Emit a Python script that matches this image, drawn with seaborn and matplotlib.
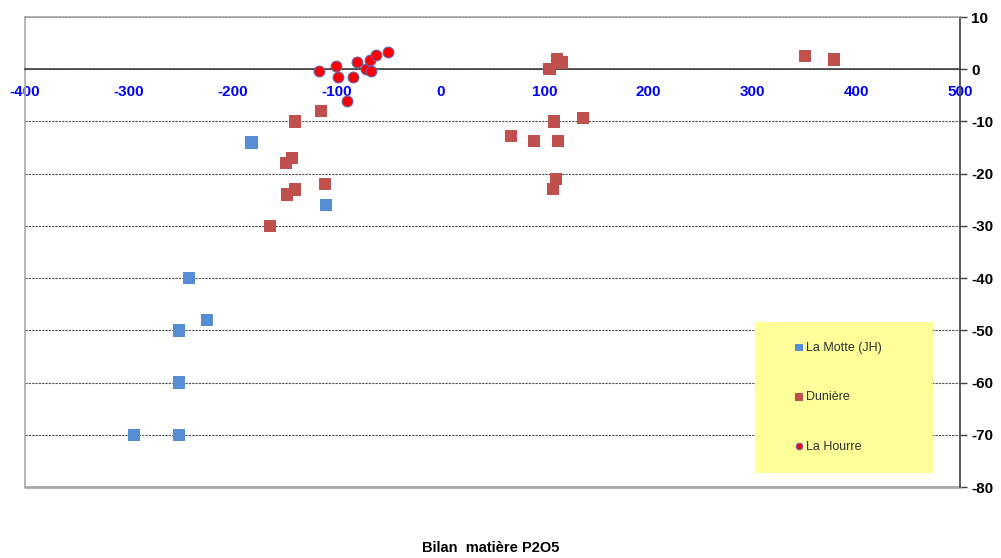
import numpy as np
import pandas as pd
import matplotlib
matplotlib.use("Agg")
import matplotlib.pyplot as plt
import seaborn as sns
from matplotlib.patches import Rectangle

# values
motte_x = [-182, -110, -242, -225, -252, -252, -295, -252]
motte_y = [-14, -26, -40, -48, -50, -60, -70, -70]

duniere_x = [-115, -140, -143, -149, -111, -140, -148, -164,
             105, 112, 117, 351, 379, 109, 137, 68, 90, 113, 111, 108]
duniere_y = [-8, -10, -17, -18, -22, -23, -24, -30,
             0, 2, 1.3, 2.5, 1.9, -10, -9.3, -12.8, -13.7, -13.7, -21, -22.9]

hourre_x = [-117, -101, -99, -90, -84, -80, -72, -68, -67, -62, -51]
hourre_y = [-0.4, 0.6, -1.4, -6, -1.4, 1.3, 0, 1.7, -0.4, 2.7, 3.3]

x_ticks = [-400, -300, -200, -100, 0, 100, 200, 300, 400, 500]
y_ticks = [10, 0, -10, -20, -30, -40, -50, -60, -70, -80]

series = [
    ("La Motte (JH)", motte_x, motte_y, "s", "#558ED5", 80, "none"),
    ("Dunière", duniere_x, duniere_y, "s", "#C0504D", 80, "none"),
    ("La Hourre", hourre_x, hourre_y, "o", "#FF0000", 60, "#6A5FA8"),
]

sns.set_style("white")
plt.rcParams["font.family"] = ["Liberation Sans", "DejaVu Sans"]
plt.rcParams["axes.unicode_minus"] = False

fig = plt.figure(figsize=(10.01, 5.58), dpi=100)
ax = fig.add_axes([0.025, 0.1272, 0.934, 0.8423])

for name, xs, ys, mk, col, size, edge in series:
    df = pd.DataFrame({"bilan": xs, "delta": ys})
    sns.scatterplot(data=df, x="bilan", y="delta", marker=mk, color=col, s=size,
                    edgecolor=edge, linewidth=0.8 if edge != "none" else 0,
                    label=name, ax=ax, zorder=3)

ax.set_xlim(-400, 500)
ax.set_ylim(-80, 10)
ax.set_xticks(x_ticks)
ax.set_yticks(y_ticks)
ax.set_xlabel("")
ax.set_ylabel("")

# axes: x axis crosses at y=0, y axis on the right
ax.spines["bottom"].set_position(("data", 0))
ax.spines["bottom"].set_color("#404040")
ax.spines["bottom"].set_linewidth(1.2)
ax.spines["right"].set_color("#404040")
ax.spines["right"].set_linewidth(1.2)
ax.spines["right"].set_visible(True)
ax.spines["top"].set_color("#A8A8A8")
ax.spines["left"].set_color("#A8A8A8")
ax.spines["top"].set_linewidth(1.2)
ax.spines["left"].set_linewidth(1.2)
ax.axhline(-80, color="#A8A8A8", lw=2.0, zorder=2.5, clip_on=False)

ax.yaxis.tick_right()
ax.tick_params(axis="x", direction="out", length=3, width=1, color="#404040",
               pad=8, labelsize=11, labelcolor="#0000FF")
ax.tick_params(axis="y", direction="out", length=5, width=1, color="#404040",
               pad=3, labelsize=11, labelcolor="black")
for lab in ax.get_xticklabels() + ax.get_yticklabels():
    lab.set_fontweight("bold")

ax.set_axisbelow(True)
ax.yaxis.grid(True, color="#505050", linestyle=(0, (2, 1)), linewidth=0.8)
ax.xaxis.grid(False)

# legend box
ax.add_patch(Rectangle((0.781, 0.030), 0.190, 0.321, transform=ax.transAxes,
                       facecolor="#FFFF99", edgecolor="none", zorder=1.5))
leg = ax.legend(loc="center left", bbox_to_anchor=(0.815, 0.191), frameon=False,
                fontsize=9, labelspacing=3.0, handletextpad=0.1, handlelength=0.9,
                markerscale=0.6, borderpad=0)
for t in leg.get_texts():
    t.set_color("#303030")

fig.text(0.49, 0.018, "Bilan  matière P2O5", ha="center", va="center",
         fontsize=10.5, fontweight="bold", color="black")

plt.savefig("out.png", dpi=100)
plt.close()
